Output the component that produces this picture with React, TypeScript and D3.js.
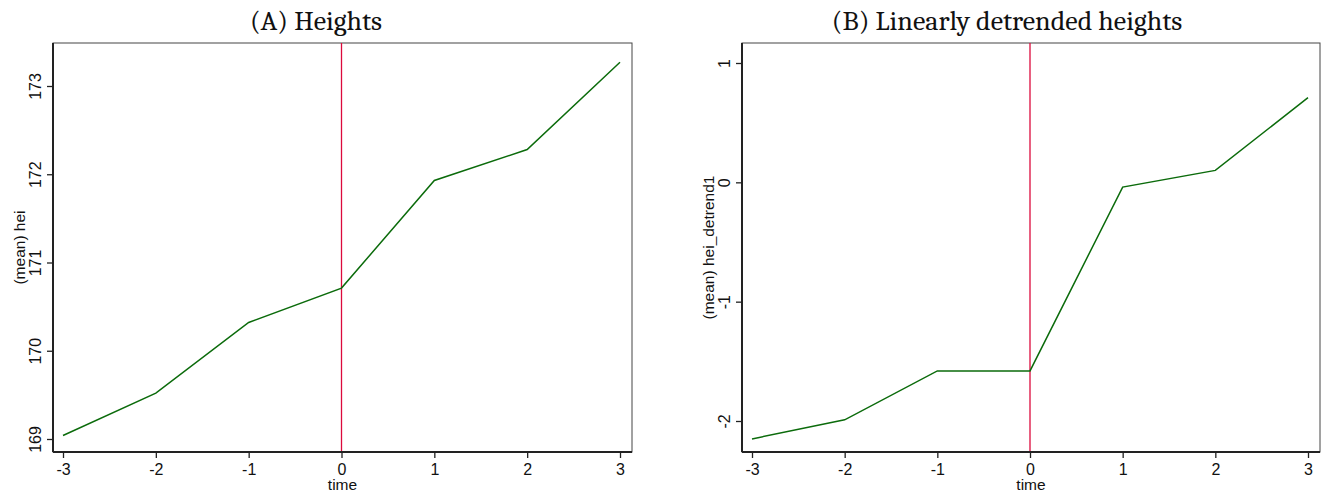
import { useEffect, useRef } from "react";
import * as d3 from "d3";

const times = [-3, -2, -1, 0, 1, 2, 3];
const heights = [169.04, 169.52, 170.32, 170.71, 171.93, 172.28, 173.27];
const detrended = [-2.15, -1.99, -1.58, -1.58, -0.04, 0.1, 0.71];
const heightTicks = [169, 170, 171, 172, 173];
const detrendTicks = [-2, -1, 0, 1];

const W = 1327;
const H = 494;

function App() {
  const ref = useRef<SVGSVGElement>(null);

  useEffect(() => {
    const svg = d3.select(ref.current);
    svg.selectAll("*").remove();

    const panels = [
      {
        title: "(A) Heights",
        ylab: "(mean) hei",
        values: heights,
        ticks: heightTicks,
        yDomain: [169, 173],
        yRange: [439, 86],
        left: 53,
        right: 632,
        xRange: [63, 620],
        titleX: 316,
        ylabX: 20,
        tickLabX: 35,
      },
      {
        title: "(B) Linearly detrended heights",
        ylab: "(mean) hei_detrend1",
        values: detrended,
        ticks: detrendTicks,
        yDomain: [-2, 1],
        yRange: [421, 63],
        left: 742,
        right: 1320,
        xRange: [752, 1308],
        titleX: 1007,
        ylabX: 709,
        tickLabX: 724,
      },
    ];
    const top = 43;
    const bottom = 452;
    const sans = "Arial, 'Liberation Sans', sans-serif";

    panels.forEach((p) => {
      const x = d3.scaleLinear().domain([-3, 3]).range(p.xRange);
      const y = d3.scaleLinear().domain(p.yDomain).range(p.yRange);
      const g = svg.append("g");

      g.append("text")
        .attr("x", p.titleX)
        .attr("y", 30)
        .attr("text-anchor", "middle")
        .attr("font-family", "Cambria, 'Liberation Serif', 'DejaVu Serif', serif")
        .attr("font-size", 28)
        .attr("fill", "#111")
        .text(p.title);

      // frame
      g.append("rect")
        .attr("x", p.left)
        .attr("y", top)
        .attr("width", p.right - p.left)
        .attr("height", bottom - top)
        .attr("fill", "none")
        .attr("stroke", "#444")
        .attr("stroke-width", 1);

      // red reference line at time 0
      g.append("line")
        .attr("x1", x(0))
        .attr("x2", x(0))
        .attr("y1", top)
        .attr("y2", bottom)
        .attr("stroke", "#dc0a3c")
        .attr("stroke-width", 1.3);

      const line = d3
        .line<number>()
        .x((d, i) => x(times[i]))
        .y((d) => y(d));
      g.append("path")
        .datum(p.values)
        .attr("fill", "none")
        .attr("stroke", "#0b6b0b")
        .attr("stroke-width", 1.5)
        .attr("d", line);

      // x axis
      const xa = g
        .append("g")
        .attr("transform", `translate(0,${bottom})`)
        .call(d3.axisBottom(x).tickValues(times).tickSize(6).tickSizeOuter(0).tickFormat(d3.format("d")));
      xa.select(".domain").attr("d", `M${p.left},0H${p.right}`).attr("stroke", "#222").attr("stroke-width", 2);
      xa.selectAll(".tick line").attr("stroke", "#222").attr("stroke-width", 1.3);
      xa.selectAll(".tick text")
        .attr("font-family", sans)
        .attr("font-size", 16)
        .attr("fill", "#111")
        .attr("dy", "0.9em")
        .text((d: any) => (d < 0 ? "-" + Math.abs(d) : String(d)));

      // y axis
      const ya = g
        .append("g")
        .attr("transform", `translate(${p.left},0)`)
        .call(d3.axisLeft(y).tickValues(p.ticks).tickSize(6).tickSizeOuter(0).tickFormat(d3.format("d")));
      ya.select(".domain").attr("d", `M0,${top}V${bottom}`).attr("stroke", "#222").attr("stroke-width", 2);
      ya.selectAll(".tick line").attr("stroke", "#222").attr("stroke-width", 1.3);
      ya.selectAll(".tick text")
        .attr("font-family", sans)
        .attr("font-size", 16)
        .attr("fill", "#111")
        .attr("x", null)
        .attr("dy", null)
        .attr("text-anchor", "middle")
        .attr("transform", `translate(${p.tickLabX - p.left},0) rotate(-90)`)
        .attr("y", 6)
        .text((d: any) => (d < 0 ? "-" + Math.abs(d) : String(d)));

      g.append("text")
        .attr("transform", `translate(${p.ylabX},${(top + bottom) / 2}) rotate(-90)`)
        .attr("text-anchor", "middle")
        .attr("dy", "0.35em")
        .attr("font-family", sans)
        .attr("font-size", 15.5)
        .attr("fill", "#111")
        .text(p.ylab);

      g.append("text")
        .attr("x", (p.left + p.right) / 2)
        .attr("y", 490)
        .attr("text-anchor", "middle")
        .attr("font-family", sans)
        .attr("font-size", 15.5)
        .attr("fill", "#111")
        .text("time");
    });
  }, []);

  return (
    <svg
      ref={ref}
      width={W}
      height={H}
      style={{ position: "absolute", left: 0, top: 0, background: "#fff" }}
    />
  );
}

export default App;
